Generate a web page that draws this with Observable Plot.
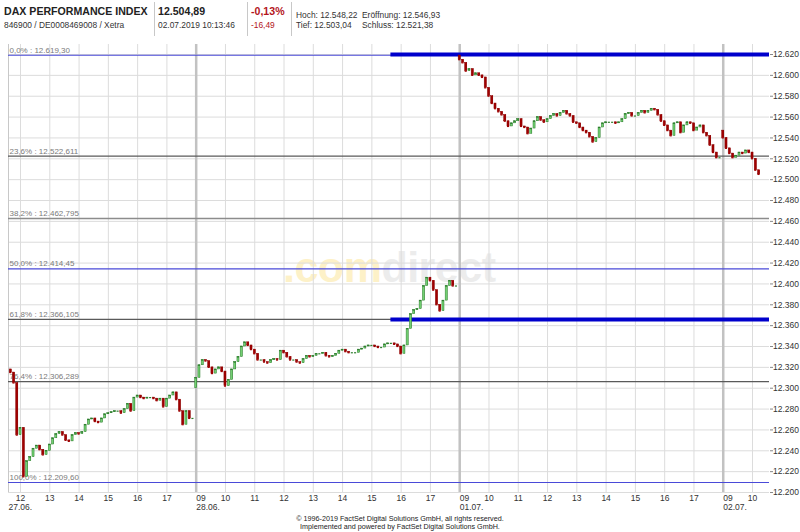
<!DOCTYPE html>
<html><head><meta charset="utf-8">
<script src="https://cdn.jsdelivr.net/npm/d3@7"></script>
<script src="https://cdn.jsdelivr.net/npm/@observablehq/plot@0.6"></script>
<style>
body{margin:0;background:#fff;font-family:"Liberation Sans",Arial,sans-serif;}
#wrap{position:relative;width:800px;height:532px;overflow:hidden;background:#fff;}
.h{position:absolute;white-space:nowrap;color:#222;line-height:1;}
.big{font-weight:bold;font-size:10.6px;}
.sm{font-size:8.4px;color:#333;}
.red{color:#b3151b;}
.sep{position:absolute;top:2px;width:1px;height:34px;background:#c8c8c8;}
#wm{position:absolute;left:283px;top:246px;font-weight:bold;font-size:43px;line-height:1;letter-spacing:-0.5px;white-space:nowrap;}
#chart{position:absolute;left:0;top:40px;}
#foot{position:absolute;left:0;width:800px;top:515px;text-align:center;font-size:7.2px;line-height:8px;color:#222;}
</style></head><body>
<div id="wrap">
  <div class="h big" style="left:4px;top:6px">DAX PERFORMANCE INDEX</div>
  <div class="h sm" style="left:4px;top:21px">846900 / DE0008469008 / Xetra</div>
  <div class="sep" style="left:154px"></div>
  <div class="h big" style="left:158px;top:6px">12.504,89</div>
  <div class="h sm" style="left:158px;top:21px">02.07.2019 10:13:46</div>
  <div class="sep" style="left:247px"></div>
  <div class="h big red" style="left:251px;top:6px">-0,13%</div>
  <div class="h sm red" style="left:251px;top:21px">-16,49</div>
  <div class="sep" style="left:291px"></div>
  <div class="h sm" style="left:296px;top:11px">Hoch: 12.548,22</div>
  <div class="h sm" style="left:362px;top:11px">Eröffnung: 12.546,93</div>
  <div class="h sm" style="left:296px;top:21px">Tief: 12.503,04</div>
  <div class="h sm" style="left:362px;top:21px">Schluss: 12.521,38</div>
  <div id="wm"><span style="color:#fdf1c8">.com</span><span style="color:#ececec">direct</span></div>
  <div id="chart"></div>
  <div id="foot">© 1996-2019 FactSet Digital Solutions GmbH, all rights reserved.<br>Implemented and powered by FactSet Digital Solutions GmbH.</div>
</div>
<script>
// ---- data ----
const dayLabels = ["27.06.", "28.06.", "01.07.", "02.07."];
const dayStartHour = [11 + 40/60, 9, 9, 9];   // first bar of each session
const dayOpen = [12318, 12300, 12619, 12547];
const day1Close = [12315,12305,12255,12262,12215,12230,12234,12242,12245,12241,12236,12240,12246,12252,12256,12258,12255,12250,12249,12255,12257,12256,12258,12265,12270,12271,12268,12267,12271,12275,12276,12277,12278,12278,12276,12280,12285,12278,12291,12293,12291,12290,12291,12291,12290,12288,12290,12282,12290,12293,12296,12289,12278,12265,12278,12271,12271];
const day2Close = [12310,12322,12327,12326,12320,12314,12318,12320,12316,12302,12308,12318,12325,12330,12340,12344,12341,12337,12333,12327,12327,12325,12324,12327,12328,12327,12336,12334,12330,12327,12327,12325,12324,12328,12331,12330,12331,12333,12333,12334,12331,12330,12331,12333,12336,12337,12335,12334,12334,12334,12337,12338,12340,12341,12341,12340,12339,12339,12342,12343,12343,12342,12340,12333,12341,12357,12371,12375,12376,12384,12398,12406,12403,12394,12380,12374,12384,12398,12403,12398,12398];
const day3Close = [12615,12612,12604,12606,12600,12602,12600,12598,12588,12580,12573,12568,12565,12562,12556,12551,12554,12556,12558,12551,12550,12544,12549,12556,12560,12557,12555,12558,12561,12563,12561,12564,12566,12563,12561,12555,12554,12550,12547,12545,12541,12536,12540,12550,12554,12555,12555,12555,12554,12555,12558,12563,12564,12561,12561,12564,12566,12564,12566,12568,12567,12562,12556,12552,12547,12542,12554,12555,12545,12552,12555,12554,12547,12550,12552,12545,12542,12533,12526,12521,12521];
const day4Close = [12540,12530,12525,12521,12523,12526,12525,12528,12526,12520,12509,12505];
const barHours = 1/9;

const fibPct = ["0,0%", "23,6%", "38,2%", "50,0%", "61,8%", "76,4%", "100,0%"];
const fibValue = [12619.30, 12522.611, 12462.795, 12414.45, 12366.105, 12306.289, 12209.60];
const fibText = ["12.619,30", "12.522,611", "12.462,795", "12.414,45", "12.366,105", "12.306,289", "12.209,60"];

const levelValue = [12620, 12366];
const levelFromDay = 1, levelFromHour = 15.65;

const yTicks = [12200,12220,12240,12260,12280,12300,12320,12340,12360,12380,12400,12420,12440,12460,12480,12500,12520,12540,12560,12580,12600,12620];
const hourTickDay = [0,0,0,0,0,0, 1,1,1,1,1,1,1,1,1, 2,2,2,2,2,2,2,2,2, 3,3];
const hourTickHour = [12,13,14,15,16,17, 9,10,11,12,13,14,15,16,17, 9,10,11,12,13,14,15,16,17, 9,10];

// ---- derived ----
const T = (day, hour) => day * 9 + (hour - 9);   // compressed session time
const xDomain = [2.59, 28.58];
const candles = [];
[day1Close, day2Close, day3Close, day4Close].forEach((closes, di) => {
  let prev = dayOpen[di];
  closes.forEach((c, i) => {
    const t = T(di, dayStartHour[di]) + i * barHours;
    candles.push({t, open: prev, close: c, up: c >= prev});
    prev = c;
  });
});
const fib = fibPct.map((p, i) => ({pct: p, value: fibValue[i], txt: fibText[i]}));
const blueFib = new Set(["0,0%", "50,0%", "100,0%"]);
const levels = levelValue.map(v => ({value: v, from: T(levelFromDay, levelFromHour)}));
const hourTicks = hourTickHour.map((h, i) => ({t: T(hourTickDay[i], h), label: String(h).padStart(2, "0"), dayStart: h === 9}));
const dayStartT = [9, 18, 27];
const dayLabelPos = dayLabels.map((l, i) => ({label: l, t: i === 0 ? xDomain[0] : T(i, 9)}));
const fmtY = v => d3.format(",")(v).replace(/,/g, ".");
const w = barHours * 0.32;

const chart = Plot.plot({
  width: 800, height: 492,
  marginTop: 4, marginBottom: 40, marginLeft: 8, marginRight: 31,
  x: {domain: xDomain, axis: null},
  y: {domain: [12200, 12629.6], axis: null},
  style: {background: "transparent", fontFamily: "Liberation Sans, Arial, sans-serif", fontSize: "9px", color: "#333"},
  marks: [
    Plot.ruleY(yTicks, {stroke: "#dcdcdc"}),
    Plot.ruleX(hourTicks, {x: "t", stroke: "#dcdcdc"}),
    Plot.ruleX(dayStartT, {stroke: "#c2c2c2", strokeWidth: 2.5}),
    Plot.ruleX([xDomain[0]], {stroke: "#c8c8c8"}),
    Plot.ruleY(fib, {y: "value", stroke: d => blueFib.has(d.pct) ? "#4a4ad8" : (d.pct === "38,2%" ? "#8c8c8c" : "#5a5a5a"), strokeWidth: d => d.pct === "38,2%" ? 1.6 : 1.2}),
    Plot.text(fib, {x: () => xDomain[0], y: "value", text: d => `${d.pct} : ${d.txt}`, textAnchor: "start", dx: 1, dy: -5, fill: "#7a7a7a", fontSize: 8}),
    Plot.ruleY(levels, {y: "value", x1: "from", x2: () => xDomain[1], stroke: "#0000cc", strokeWidth: 4}),
    Plot.ruleX(candles, {x: "t", y1: "open", y2: "close", stroke: d => d.up ? "#2e7d2e" : "#990000", strokeWidth: 1}),
    Plot.rect(candles, {x1: d => d.t - w, x2: d => d.t + w, y1: "open", y2: "close",
      fill: d => d.up ? "#72d072" : "#a00000", stroke: d => d.up ? "#2e7d2e" : "#8a0000", strokeWidth: 0.5}),
    Plot.ruleY(candles, {y: "close", x1: d => d.t - w, x2: d => d.t + w, stroke: d => d.up ? "#2e7d2e" : "#a00000", strokeWidth: 1.2}),
    Plot.axisY(yTicks, {anchor: "right", tickSize: 3, tickPadding: 0.5, tickFormat: fmtY, fontSize: 8.5, stroke: "#888", fill: "#333"}),
    Plot.text(hourTicks.filter(d => !d.dayStart), {x: "t", text: "label", frameAnchor: "bottom", dy: 8, textAnchor: "middle", fill: "#333", fontSize: 8.5}),
    Plot.text(hourTicks.filter(d => d.dayStart), {x: "t", text: "label", frameAnchor: "bottom", dy: 8, textAnchor: "start", fill: "#333", fontSize: 8.5}),
    Plot.text(dayLabelPos, {x: "t", text: "label", frameAnchor: "bottom", dy: 17, textAnchor: "start", fill: "#333", fontSize: 8.5})
  ]
});
document.getElementById("chart").appendChild(chart);
</script>
</body></html>
